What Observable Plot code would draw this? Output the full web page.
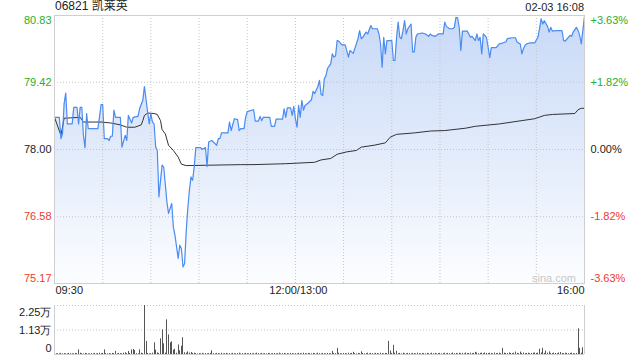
<!DOCTYPE html>
<html><head><meta charset="utf-8">
<script src="https://cdn.jsdelivr.net/npm/d3@7"></script>
<script src="https://cdn.jsdelivr.net/npm/@observablehq/plot@0.6"></script>
<style>
body{margin:0;background:#fff;font-family:"Liberation Sans",Arial,sans-serif;}
#wrap{position:relative;width:640px;height:360px;overflow:hidden;background:#fff;}
.abs{position:absolute;white-space:nowrap;}
#wrap svg{position:absolute;left:0;}
</style></head><body><div id="wrap"></div>
<script>
// ---- data ----
const stockCode = "06821";
const stockName = "凯莱英";
const stamp = "02-03 16:08";
const watermark = "sina.com";

const priceTicks = [80.83, 79.42, 78.00, 76.58, 75.17];
const priceLabels = ["80.83", "79.42", "78.00", "76.58", "75.17"];
const pctLabels = ["+3.63%", "+1.82%", "0.00%", "-1.82%", "-3.63%"];

const xLabelMinutes = [0, 150, 330];
const xLabels = ["09:30", "12:00/13:00", "16:00"];

const volTicks = [22500, 11250, 0];
const volLabels = ["2.25万", "1.13万", "0"];

// minutes since 09:30 (lunch break removed)
const priceMinutes = [0,3,4,5,6,7,8,11,12,14,15,16,17,18,19,20,21,27,28,29,30,31,33,34,35,36,37,38,41,42,44,45,46,48,49,52,53,55,56,58,59,60,61,62,63,64,65,67,68,70,71,73,74,75,77,78,79,80,81,82,83,84,85,86,87,88,91,92,94,95,96,98,100,101,102,103,104,108,109,110,112,114,115,116,118,119,120,124,125,127,128,129,130,134,135,137,138,142,143,144,145,147,148,149,150,151,152,153,154,155,156,158,160,161,162,164,165,166,167,168,169,170,172,173,174,175,176,177,179,181,182,183,184,186,187,189,190,191,192,194,195,197,198,201,202,203,204,205,206,207,210,211,212,213,214,215,216,217,218,219,220,222,223,224,225,226,229,231,233,234,235,237,238,239,242,243,244,246,248,249,250,251,252,253,254,257,259,260,262,263,264,265,266,267,268,269,270,271,272,275,277,279,281,282,285,287,288,290,291,292,293,294,296,299,301,302,303,304,305,307,308,309,310,312,316,317,318,320,321,322,323,325,326,327,328,330];
const priceValues = [78.68,78.68,78.23,78.33,78.97,79.19,78.54,78.54,78.89,78.89,78.54,78.89,78.89,78.30,78.04,78.76,78.44,78.44,78.68,78.95,78.95,78.23,78.23,78.19,78.28,78.28,78.83,78.68,78.68,78.05,78.30,78.19,78.72,78.56,78.68,78.70,78.86,79.04,79.33,78.79,78.54,78.76,78.58,78.54,78.05,77.98,77.00,77.67,77.63,76.89,76.65,76.86,76.36,76.19,75.70,75.98,75.91,75.52,75.59,76.26,76.76,77.14,77.42,77.35,77.63,78.04,78.04,78.00,78.04,77.64,78.16,78.19,78.12,78.09,78.23,78.23,78.35,78.35,78.58,78.40,78.65,78.63,78.40,78.44,78.44,78.68,78.80,78.84,78.60,78.60,78.70,78.61,78.68,78.68,78.49,78.49,78.64,78.64,78.86,78.68,78.88,78.88,78.72,78.91,78.65,78.47,78.93,78.68,79.04,78.83,78.93,78.98,79.05,79.23,79.18,79.33,79.46,79.16,79.14,79.49,79.56,79.71,79.81,80.02,79.95,79.98,80.30,80.29,80.21,80.21,80.09,79.95,80.09,80.03,80.13,80.34,80.51,80.34,80.37,80.48,80.44,80.62,80.55,80.55,80.44,80.23,79.74,80.37,80.02,80.30,80.30,79.88,79.88,80.37,80.69,80.37,80.34,80.51,80.72,80.44,80.55,80.65,80.06,80.06,80.37,80.44,80.46,80.44,80.39,80.44,80.41,80.39,80.41,80.44,80.44,80.69,80.60,80.55,80.55,80.58,80.79,80.78,80.58,80.09,80.50,80.50,80.37,80.39,80.30,80.44,80.30,80.37,80.02,80.44,80.41,80.36,80.16,79.94,80.15,80.15,80.23,80.25,80.27,80.34,80.36,80.36,80.27,80.23,80.02,80.13,80.20,80.23,80.25,80.25,80.37,80.55,80.76,80.65,80.72,80.60,80.48,80.58,80.50,80.51,80.51,80.30,80.29,80.37,80.41,80.39,80.48,80.58,80.51,80.41,80.23,80.81];

const avgMinutes = [0,4,6,16,18,29,35,41,45,50,54,55,56,58,62,64,66,67,69,71,74,77,79,82,116,123,144,156,162,166,172,176,182,188,191,199,206,209,213,224,234,243,256,262,277,291,299,305,310,324,326,328,330];
const avgValues = [78.68,78.30,78.66,78.68,78.58,78.58,78.56,78.52,78.47,78.47,78.52,78.61,78.72,78.77,78.76,78.74,78.61,78.42,78.33,78.09,77.98,77.84,77.69,77.66,77.68,77.68,77.70,77.72,77.73,77.78,77.81,77.90,77.95,77.98,78.05,78.09,78.14,78.26,78.32,78.35,78.39,78.40,78.45,78.49,78.54,78.61,78.65,78.72,78.74,78.76,78.84,78.87,78.87];

// volume per minute (shares), index = minute since 09:30
const volumes = [
600,300,400,300,500,300,400,300,300,500,
400,300,300,500,400,2100,600,400,300,500,
400,300,300,400,300,500,300,400,600,400,
500,2100,400,300,400,300,500,400,1400,300,
500,400,300,600,800,400,1400,500,2100,2300,
1800,400,300,2100,600,400,22500,6000,500,300,
400,600,5400,2000,700,500,7200,11300,4900,600,
15900,9000,5400,5800,2000,2400,600,4400,1700,3800,
7700,800,600,1200,700,900,500,600,400,300,
400,300,500,300,400,300,400,500,1700,400,
300,500,400,300,600,300,400,500,300,400,
300,500,400,300,400,600,300,400,300,500,
400,300,500,300,400,300,600,400,300,500,
300,400,300,500,400,300,400,500,300,400,
600,300,400,500,300,400,300,500,400,300,
400,300,500,400,300,600,400,300,500,400,
300,500,400,300,600,400,300,500,400,300,
500,400,300,1400,500,400,2800,600,400,300,
500,400,300,600,400,500,1000,400,300,500,
400,1200,500,300,400,600,300,500,400,300,
500,400,300,600,400,300,500,400,6000,1600,
500,4200,600,1500,400,500,300,600,400,300,
500,400,300,500,400,300,600,400,300,500,
400,300,500,400,300,600,400,500,300,400,
500,300,400,600,300,500,400,300,700,400,
500,300,600,400,500,300,700,400,500,600,
400,500,1000,700,400,500,600,400,700,500,
400,600,500,300,700,400,500,600,400,2800,
600,500,400,700,500,400,600,1100,500,400,
1100,500,700,400,500,600,400,500,600,700,
500,600,2400,700,2800,500,1600,600,1200,500,
400,600,500,400,700,900,500,400,600,500,
400,500,600,400,300,500,11800,2800,600,3100,
1400];

// ---- build ----
const GREEN = "#2aae2a", RED = "#f0392d", INK = "#222", GRID = "#c4c4c4", BORDER = "#cfcfcf";
const FONT = "'Liberation Sans', Arial, sans-serif";
const priceData = priceMinutes.map((m, i) => ({m, p: priceValues[i]}));
const avgData = avgMinutes.map((m, i) => ({m, p: avgValues[i]}));
const volData = volumes.map((v, i) => ({m: i, v}));
const yMin = d3.min(priceTicks), yMax = d3.max(priceTicks);
const tickColors = [GREEN, GREEN, INK, RED, RED];
const edgeDy = [5, 0, 0, 0, -5];
const gridMinutes = d3.range(30, 330, 30);

const mainMarks = [
  Plot.areaY(priceData, {x: "m", y1: () => yMin, y2: "p", fill: "url(#pgrad)"}),
  Plot.gridX(gridMinutes, {stroke: GRID, strokeOpacity: 1, strokeDasharray: "1,2"}),
  Plot.gridY(priceTicks.slice(1, -1), {stroke: GRID, strokeOpacity: 1, strokeDasharray: "1,2"}),
  Plot.line(avgData, {x: "m", y: "p", stroke: "#333", strokeWidth: 1}),
  Plot.line(priceData, {x: "m", y: "p", stroke: "#4a8cf0", strokeWidth: 1.2}),
  Plot.frame({stroke: BORDER})
];
priceTicks.forEach((t, i) => {
  mainMarks.push(Plot.axisY([t], {anchor: "left", tickSize: 0, tickPadding: 3, tickFormat: () => priceLabels[i], fill: tickColors[i], dy: edgeDy[i], label: null}));
  mainMarks.push(Plot.axisY([t], {anchor: "right", tickSize: 0, tickPadding: 6, tickFormat: () => pctLabels[i], fill: tickColors[i], dy: edgeDy[i], label: null}));
});
const anchors = ["start", "middle", "end"];
const xdx = [1, 3, 0];
xLabelMinutes.forEach((m, i) => {
  mainMarks.push(Plot.text([m], {x: d => d, frameAnchor: "bottom", dy: 10, text: () => xLabels[i], textAnchor: anchors[i], dx: xdx[i], fill: INK}));
});

const main = Plot.plot({
  width: 640, height: 300,
  marginTop: 15, marginBottom: 17, marginLeft: 54, marginRight: 56,
  style: {background: "transparent", fontFamily: FONT, fontSize: "11px", color: INK, overflow: "visible"},
  x: {domain: [0, 330], axis: null},
  y: {domain: [yMin, yMax]},
  marks: mainMarks
});
d3.select(main).insert("defs", ":first-child").html(
  '<linearGradient id="pgrad" x1="0" y1="0" x2="0" y2="1">' +
  '<stop offset="0" stop-color="#c8d9f7"/><stop offset="0.5" stop-color="#e2ebfb"/><stop offset="1" stop-color="#fcfdff"/></linearGradient>');

const volDy = [7, 0, -6];
const volMarks = [
  Plot.gridY([11250, 22500], {stroke: GRID, strokeOpacity: 1, strokeDasharray: "1,2"}),
  Plot.ruleX(volData, {x: "m", y: "v", stroke: "#555", strokeWidth: 1}),
  Plot.ruleX([0, 330], {stroke: BORDER}),
  Plot.ruleY([0], {stroke: BORDER})
];
volTicks.forEach((t, i) => {
  volMarks.push(Plot.axisY([t], {anchor: "left", tickSize: 0, tickPadding: 3, tickFormat: () => volLabels[i], fill: INK, dy: volDy[i], label: null}));
});
const vol = Plot.plot({
  width: 640, height: 65,
  marginTop: 10, marginBottom: 6, marginLeft: 54, marginRight: 56,
  style: {background: "transparent", fontFamily: FONT, fontSize: "11px", color: INK, overflow: "visible"},
  x: {domain: [0, 330], axis: null, round: true},
  y: {domain: [0, 22500]},
  marks: volMarks
});

const wrap = document.getElementById("wrap");
main.style.top = "0px";
vol.style.top = "295px";
wrap.appendChild(main);
wrap.appendChild(vol);

function addText(txt, css) {
  const d = document.createElement("div");
  d.className = "abs";
  d.textContent = txt;
  Object.assign(d.style, css);
  wrap.appendChild(d);
}
addText(stockCode + " " + stockName, {left: "55px", top: "-1px", fontSize: "12px", lineHeight: "15px", color: INK, fontFamily: "'Liberation Sans', 'Noto Sans CJK SC', sans-serif"});
addText(stamp, {right: "56px", top: "0px", fontSize: "11px", lineHeight: "15px", color: INK});
addText(watermark, {left: "532px", top: "271px", fontSize: "11px", lineHeight: "15px", color: "#c8c8c8"});
</script></body></html>
